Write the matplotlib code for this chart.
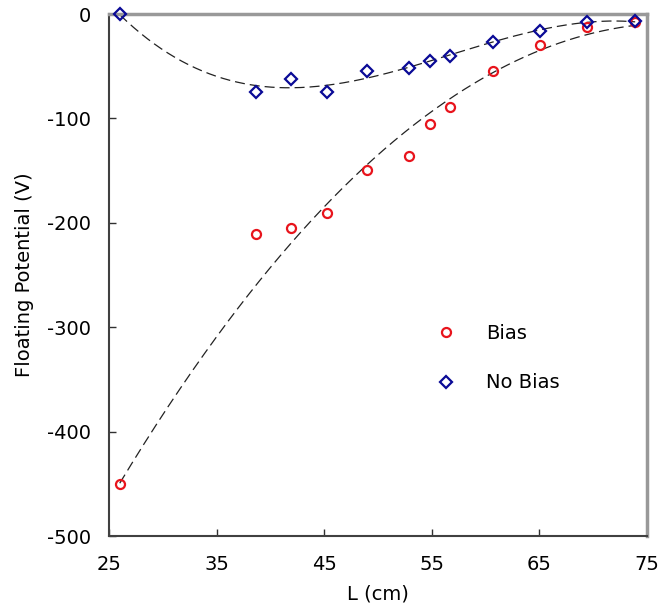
import numpy as np
import matplotlib
matplotlib.use("Agg")
import matplotlib.pyplot as plt

L_cm = [26.0, 38.7, 41.9, 45.3, 49.0, 52.9, 54.8, 56.7, 60.7, 65.1, 69.4, 73.9]
bias = [-450, -211, -205, -191, -149, -136, -105, -89, -55, -30, -12, -8]
no_bias = [0, -75, -62, -75, -55, -52, -45, -40, -27, -16, -8, -7]

x_ticks = [25, 35, 45, 55, 65, 75]
y_ticks = [-500, -400, -300, -200, -100, 0]

plt.rcParams['font.family'] = ['DejaVu Sans']
plt.rcParams['axes.unicode_minus'] = False

fig = plt.figure(figsize=(6.61, 6.10), dpi=100)
ax = fig.add_axes([109/661, 1 - 536/610, (647-109)/661, (536-14)/610])

# trend lines (polynomial fits)
xs = np.linspace(min(L_cm), max(L_cm), 300)
wb = np.ones(len(L_cm))
wb[0] = 6.0
pb = np.polyfit(L_cm, bias, 2, w=wb)
pn = np.polyfit(L_cm, no_bias, 3)
ax.plot(xs, np.polyval(pb, xs), color='#222222', lw=0.9, dashes=(8, 4), zorder=2)
ax.plot(xs, np.polyval(pn, xs), color='#222222', lw=0.9, dashes=(8, 4), zorder=2)

ax.plot(L_cm, bias, linestyle='none', marker='o', ms=6.5, mfc='none',
        mec='#e8141c', mew=1.6, label='Bias', clip_on=False, zorder=3)
ax.plot(L_cm, no_bias, linestyle='none', marker='D', ms=6.0, mfc='none',
        mec='#0a0a96', mew=1.6, label='No Bias', clip_on=False, zorder=3)

ax.set_xlim(25, 75)
ax.set_ylim(-500, 0)
ax.set_xticks(x_ticks)
ax.set_yticks(y_ticks)
ax.tick_params(direction='in', length=5, width=1, labelsize=14, color='#303030')
ax.tick_params(axis='y', pad=13)
ax.tick_params(axis='x', pad=14)

for s in ['left', 'bottom']:
    ax.spines[s].set_color('#404040')
    ax.spines[s].set_linewidth(1.5)
for s in ['top', 'right']:
    ax.spines[s].set_color('#999999')
    ax.spines[s].set_linewidth(2.5)

ax.set_xlabel('L (cm)', fontsize=14, labelpad=7)
ax.set_ylabel('Floating Potential (V)', fontsize=14, labelpad=9)

leg = ax.legend(loc='center left', bbox_to_anchor=(0.567, 0.341), frameon=False,
                fontsize=14, labelspacing=1.58, handletextpad=1.3, handlelength=1.5)

fig.savefig('out.png', dpi=100)
